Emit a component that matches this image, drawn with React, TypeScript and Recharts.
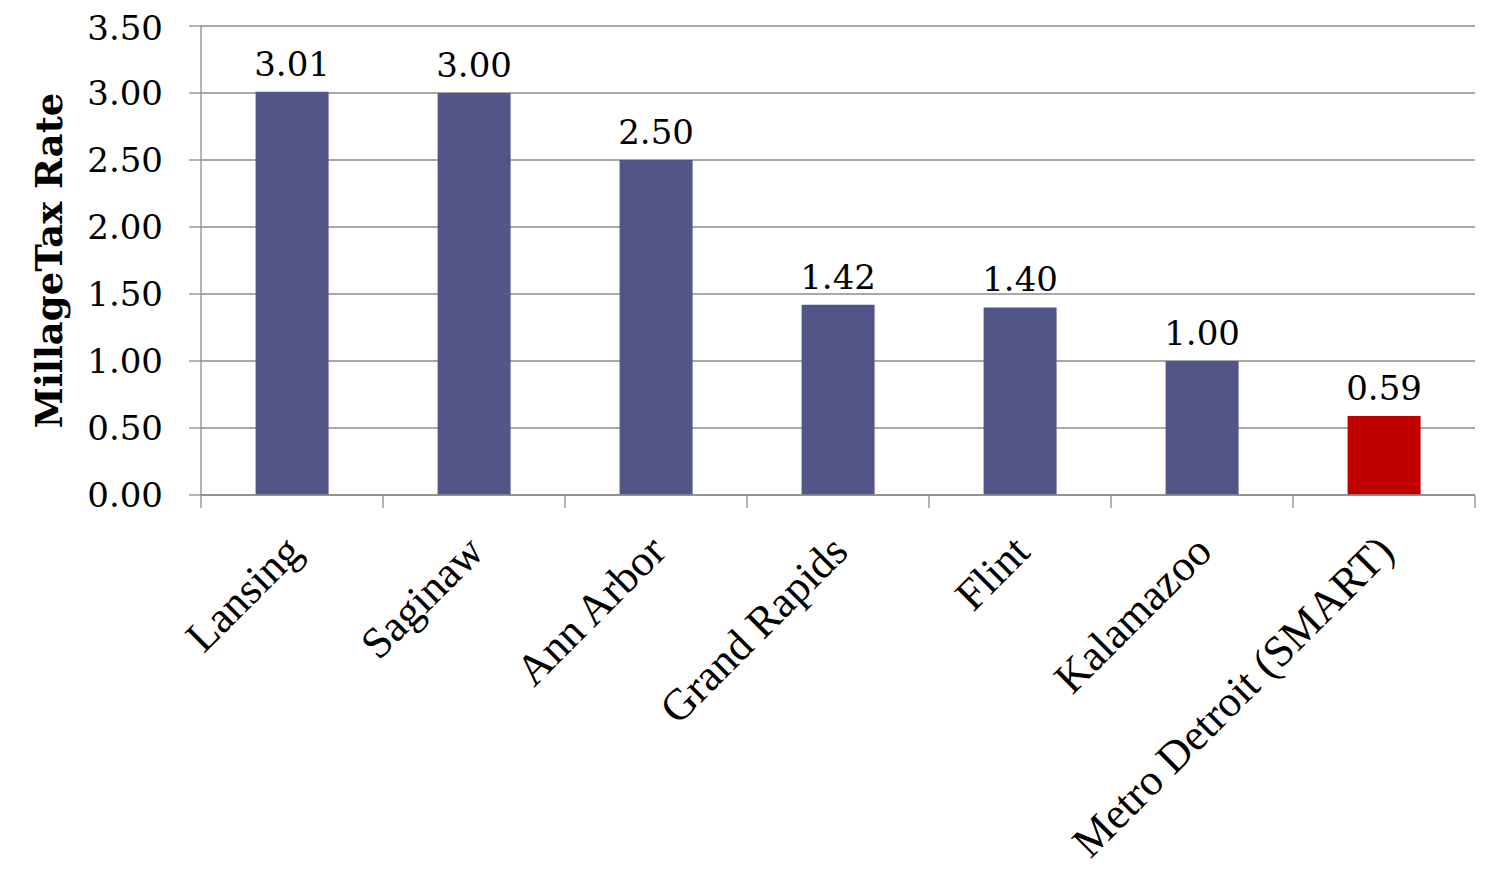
import React from "react";
import { BarChart, Bar, XAxis, YAxis, CartesianGrid, Cell, LabelList } from "recharts";

const categories = ["Lansing", "Saginaw", "Ann Arbor", "Grand Rapids", "Flint", "Kalamazoo", "Metro Detroit (SMART)"];
const values = [3.01, 3.0, 2.5, 1.42, 1.4, 1.0, 0.59];
const barColors = ["#535589", "#535589", "#535589", "#535589", "#535589", "#535589", "#C00000"];
const yTicks = [0, 0.5, 1, 1.5, 2, 2.5, 3, 3.5];
const edgeTicks = [0, 1, 2, 3, 4, 5, 6, 7];
const yLabel = "MillageTax Rate";

const data = categories.map((name, i) => ({ name, value: values[i], slot: i + 0.5 }));

const GRID = "#8c8c8c";

const CatTick = (props: any) => {
  const { x, y, payload } = props;
  return (
    <g transform={`translate(${x + 12},${y + 58})`}>
      <text
        x={0}
        y={0}
        textAnchor="end"
        transform="rotate(-45)"
        fontFamily="'Liberation Serif', 'Times New Roman', serif"
        fontSize={44}
        fill="#000"
      >
        {payload.value}
      </text>
    </g>
  );
};

const EmptyTick = () => <g />;

export default function App() {
  return (
    <div style={{ width: 1484, height: 872 }}>
      <BarChart
        width={1484}
        height={872}
        data={data}
        margin={{ top: 18, right: 17, bottom: 0, left: 0 }}
        barCategoryGap="30%"
      >
        <CartesianGrid horizontal={true} vertical={false} stroke={GRID} strokeWidth={1.3} />
        <XAxis
          xAxisId="zcat"
          dataKey="name"
          type="category"
          axisLine={false}
          tickLine={false}
          tickSize={0}
          tickMargin={0}
          height={384}
          interval={0}
          tick={<CatTick />}
        />
        <XAxis
          xAxisId="aedges"
          dataKey="slot"
          type="number"
          domain={[0, 7]}
          ticks={edgeTicks}
          interval={0}
          tick={<EmptyTick />}
          tickSize={13}
          height={1}
          axisLine={{ stroke: GRID, strokeWidth: 1.3 }}
          tickLine={{ stroke: GRID, strokeWidth: 1.3 }}
          allowDataOverflow
        />
        <YAxis
          domain={[0, 3.5]}
          ticks={yTicks}
          width={193}
          tickFormatter={(v: number) => v.toFixed(2)}
          tickSize={12}
          tickMargin={26}
          axisLine={{ stroke: GRID, strokeWidth: 1.3 }}
          tickLine={{ stroke: GRID, strokeWidth: 1.3 }}
          tick={{ fill: "#000", fontFamily: "'DejaVu Serif', serif", fontSize: 34 }}
          label={{
            value: yLabel,
            angle: -90,
            position: "center",
            dx: -56,
            style: {
              fontFamily: "'DejaVu Serif', serif",
              fontWeight: "bold",
              fontSize: 37,
              fill: "#000",
              textAnchor: "middle",
            },
          }}
        />
        <Bar dataKey="value" xAxisId="zcat" isAnimationActive={false}>
          {data.map((d, i) => (
            <Cell key={d.name} fill={barColors[i]} />
          ))}
          <LabelList
            dataKey="value"
            position="top"
            offset={16}
            formatter={(v: number) => v.toFixed(2)}
            style={{ fontFamily: "'DejaVu Serif', serif", fontSize: 34, fill: "#000" }}
          />
        </Bar>
      </BarChart>
    </div>
  );
}
